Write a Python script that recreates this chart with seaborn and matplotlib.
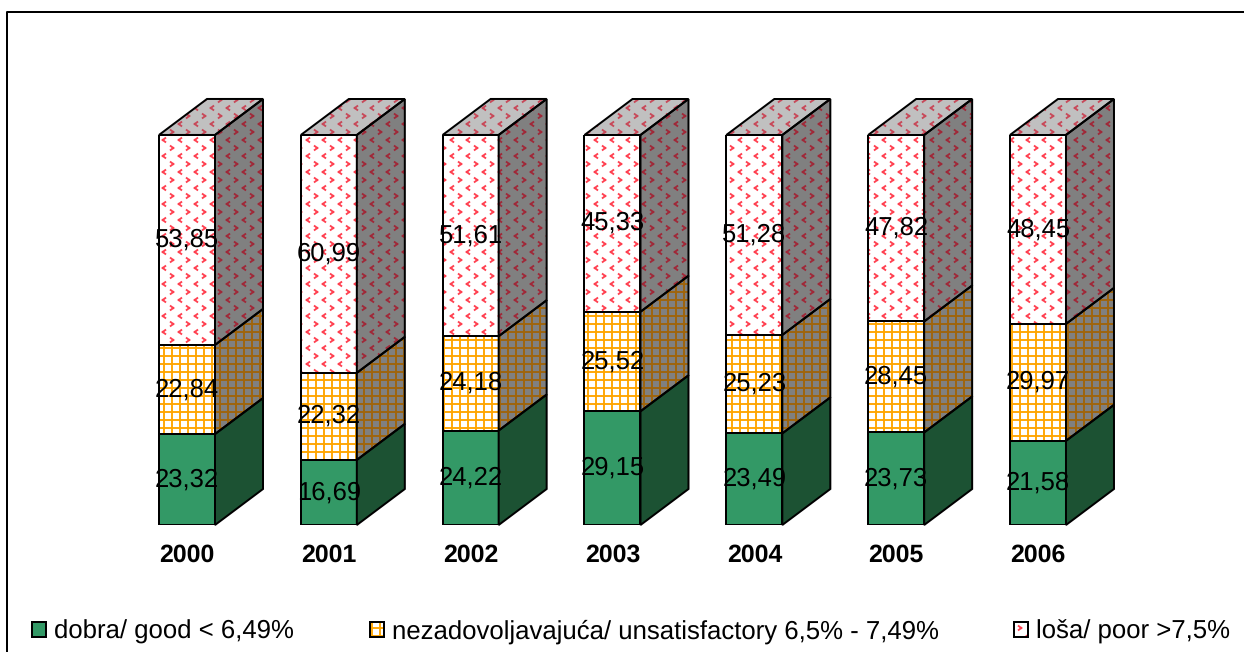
import matplotlib
matplotlib.use('Agg')
import matplotlib.hatch as mhatch
import matplotlib.pyplot as plt
import numpy as np
import seaborn as sns
from matplotlib.colors import to_rgba
from matplotlib.lines import Line2D
from matplotlib.patches import Patch, Polygon
from matplotlib.path import Path

years = ['2000', '2001', '2002', '2003', '2004', '2005', '2006']
dobra = [23.32, 16.69, 24.22, 29.15, 23.49, 23.73, 21.58]
nezadovoljavajuca = [22.84, 22.32, 24.18, 25.52, 25.23, 28.45, 29.97]
losa = [53.85, 60.99, 51.61, 45.33, 51.28, 47.82, 48.45]
legend_labels = ['dobra/ good < 6,49%',
                 'nezadovoljavajuća/ unsatisfactory 6,5% - 7,49%',
                 'loša/ poor >7,5%']


# small red < and > marks, takes the place of the star hatch
class Chevrons(mhatch.HatchPatternBase):
    def __init__(self, hatch, density):
        self.n = hatch.count('*') * density
        self.num_vertices = self.n * self.n * 8

    def set_vertices_and_codes(self, vertices, codes):
        step = 1.0 / self.n
        w, h = step * 0.08, step * 0.12
        k = 0
        for i in range(self.n):
            for j in range(self.n):
                cx, cy = (i + 0.25) * step, (j + 0.25) * step
                vertices[k:k + 4] = [(cx + w, cy + h), (cx - w, cy),
                                     (cx - w, cy), (cx + w, cy - h)]
                cx, cy = (i + 0.75) * step, (j + 0.75) * step
                vertices[k + 4:k + 8] = [(cx - w, cy + h), (cx + w, cy),
                                         (cx + w, cy), (cx - w, cy - h)]
                codes[k:k + 8] = [Path.MOVETO, Path.LINETO] * 4
                k += 8


mhatch._hatch_types = [t for t in mhatch._hatch_types if t is not mhatch.Stars] + [Chevrons]

sns.set_theme(style='white')
plt.rcParams['font.family'] = ['Liberation Sans', 'DejaVu Sans']
plt.rcParams['hatch.linewidth'] = 1.4
plt.rcParams['text.hinting'] = 'no_hinting'

W, H = 1244, 652
dpi = 96
fig = plt.figure(figsize=(W / dpi, H / dpi), dpi=dpi)

# plot area in pixels, bars 142 px apart, 100 % = 390 px
x0 = 187 - 0.5 * 141.83
ax = fig.add_axes([x0 / W, (H - 525) / H, 7 * 141.83 / W, 390 / H])

bar_w = 56 / 141.83
depth_x = 48 / 141.83
depth_y = 36 / 3.9
font = 19.2

series = [
    (dobra, '#339966', None, '#339966', '#1c5233', None, None),
    (nezadovoljavajuca, 'white', '++', '#ffa500', '#808080', '++', '#a0640a'),
    (losa, 'white', '*', '#ff4050', '#808080', '*', '#a02838'),
]

bottom = np.zeros(len(years))
for values, face, hatch, hatch_col, side, side_hatch, side_hatch_col in series:
    values = np.array(values)
    before = len(ax.patches)
    sns.barplot(x=years, y=values, bottom=bottom, color=face, saturation=1,
                width=bar_w, linewidth=0, ax=ax)
    for bar in ax.patches[before:]:
        if hatch:
            bar.set_hatch(hatch)
            bar.set_edgecolor(hatch_col)
        bar.set_linewidth(0)
    # outline on top of the hatch
    sns.barplot(x=years, y=values, bottom=bottom, fill=False, color='black',
                saturation=1, width=bar_w, linewidth=1.5, ax=ax)

    top = bottom + values
    for i in range(len(years)):
        right = i + bar_w / 2
        pts = [(right, bottom[i]), (right + depth_x, bottom[i] + depth_y),
               (right + depth_x, top[i] + depth_y), (right, top[i])]
        ax.add_patch(Polygon(pts, closed=True, facecolor=side, edgecolor='none',
                             hatch=None, clip_on=False, zorder=2))
        if side_hatch:
            ax.add_patch(Polygon(pts, closed=True, fill=False, edgecolor=side_hatch_col,
                                 linewidth=0, hatch=side_hatch, clip_on=False, zorder=2.1))
        ax.add_patch(Polygon(pts, closed=True, fill=False, edgecolor='black',
                             linewidth=1.5, clip_on=False, zorder=2.2))
        ax.text(i, bottom[i] + values[i] / 2, f'{values[i]:.2f}'.replace('.', ','),
                ha='center', va='center', fontsize=font, color='black', zorder=5)
    bottom = top

# roof of every column
for i in range(len(years)):
    left, right = i - bar_w / 2, i + bar_w / 2
    pts = [(left, bottom[i]), (right, bottom[i]),
           (right + depth_x, bottom[i] + depth_y), (left + depth_x, bottom[i] + depth_y)]
    ax.add_patch(Polygon(pts, closed=True, facecolor='#c0c0c0', edgecolor='none',
                         clip_on=False, zorder=2))
    ax.add_patch(Polygon(pts, closed=True, fill=False, edgecolor='#c84858', linewidth=0,
                         hatch='*', clip_on=False, zorder=2.1))
    ax.add_patch(Polygon(pts, closed=True, fill=False, edgecolor='black',
                         linewidth=1.5, clip_on=False, zorder=2.2))

ax.set_xlim(-0.5, 6.5)
ax.set_ylim(0, 100)
ax.set_xlabel('')
ax.set_ylabel('')
ax.set_yticks([])
ax.tick_params(axis='x', length=0, pad=14, labelcolor='black')
for lab in ax.get_xticklabels():
    lab.set_fontsize(18.7)
    lab.set_fontweight('bold')
sns.despine(ax=ax, left=True, bottom=True)
ax.patch.set_alpha(0)

handles = [
    Patch(facecolor='#339966', edgecolor='black', linewidth=1.5),
    Patch(facecolor='white', edgecolor='black', linewidth=1.5, hatch='++'),
    Patch(facecolor='white', edgecolor='black', linewidth=1.5, hatch='*'),
]
handles[1]._hatch_color = to_rgba('#ffa500')
handles[2]._hatch_color = to_rgba('#ff4050')
fig.legend(handles, legend_labels, ncol=3, loc='center left',
           bbox_to_anchor=(32 / W, (H - 632) / H), frameon=False, fontsize=19.3,
           labelcolor='black', handlelength=0.54, handleheight=0.54, handletextpad=0.31,
           columnspacing=2.95, borderpad=0, borderaxespad=0)

# chart border, only left and top are inside the picture
fig.add_artist(Line2D([6.5 / W, 6.5 / W, 1], [0, (H - 12) / H, (H - 12) / H],
                      color='black', linewidth=1.5, transform=fig.transFigure))

fig.savefig('out.png', dpi=dpi, facecolor='white')
